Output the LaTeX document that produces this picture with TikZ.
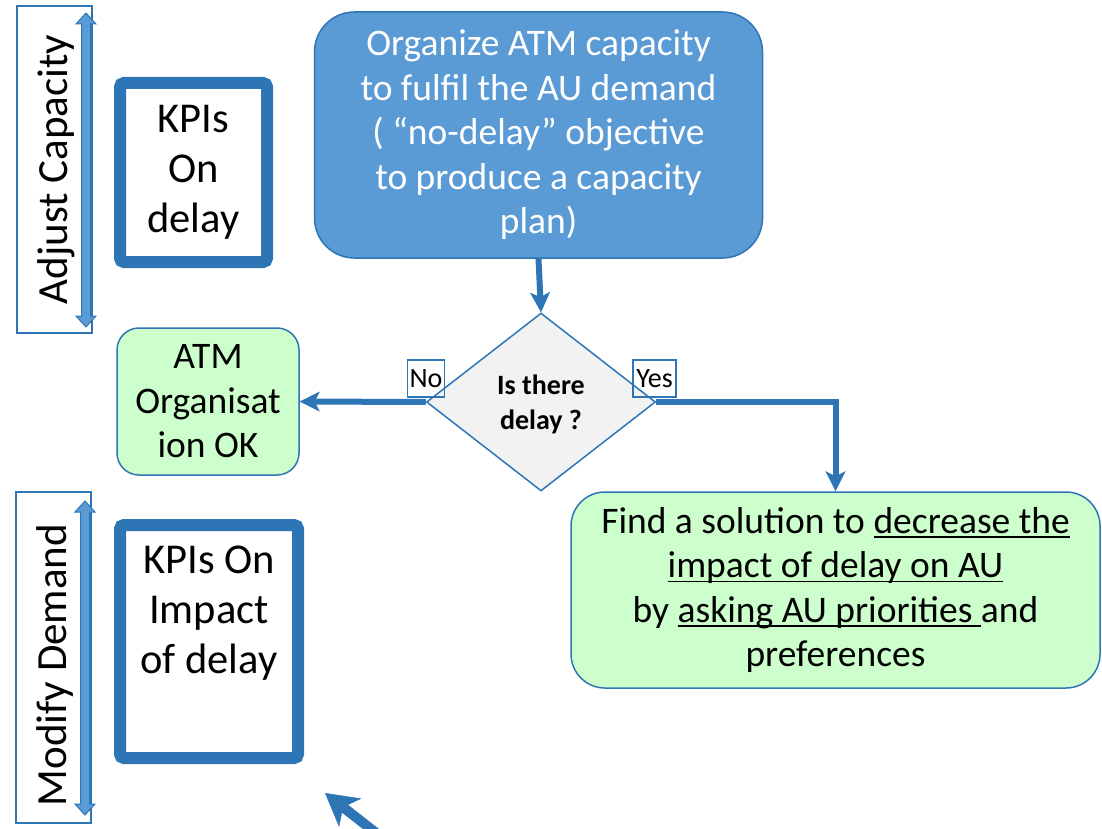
\documentclass[tikz,border=0pt]{standalone}
\usepackage{fontspec}
\setmainfont{Carlito}
\usetikzlibrary{arrows.meta,shapes.geometric}
\definecolor{lineblue}{HTML}{2E75B6}
\definecolor{boxblue}{HTML}{5B9BD5}
\definecolor{okgreen}{HTML}{CCFFCC}
\definecolor{decgray}{HTML}{F2F2F2}
% underline that crosses the descenders, Word style
\newcommand\undl[1]{\setbox0\hbox{#1}\rlap{\rule[-4.5pt]{\wd0}{1.6pt}}\box0}
\tikzset{
  bigtext/.style={font=\fontsize{37.5}{44.5}\selectfont},
  kpitext/.style={font=\fontsize{42.5}{50}\selectfont},
  lbltext/.style={font=\fontsize{28}{34}\selectfont},
  proc/.style={draw=lineblue, line width=1.5pt, align=center, inner sep=0pt, bigtext},
  okbox/.style={proc, fill=okgreen, text=black},
  kpibox/.style={draw=lineblue, line width=12pt, rounded corners=4pt, inner sep=0pt, fill=white},
  sideframe/.style={draw=lineblue, line width=1.4pt, inner sep=0pt},
  sidetext/.style={rotate=90, font=\fontsize{43}{50}\selectfont, inner sep=0pt},
  tag/.style={draw=lineblue, line width=1.2pt, inner sep=0pt, lbltext, text depth=0pt},
  flow/.style={draw=lineblue, line width=6pt,
    -{Stealth[length=20pt, width=20pt, inset=5pt, line width=0.5pt]}},
  bigflow/.style={draw=lineblue, line width=10pt,
    -{Stealth[length=32pt, width=36pt, inset=9pt, line width=0.5pt]}},
  dblarrow/.style={draw=lineblue, fill=boxblue, line width=1pt, line join=miter}
}
\begin{document}
\begin{tikzpicture}[x=1pt, y=-1pt]
\useasboundingbox (0,0) rectangle (1102,829);

% side frames with their labels
\node[sideframe, minimum width=75pt, minimum height=327pt] (adjframe) at (54.5,169.5) {};
\node[sidetext] (adjtext) at (56,169.5) {Adjust Capacity};
\node[sideframe, minimum width=75pt, minimum height=331pt] (modframe) at (53.5,657.5) {};
\node[sidetext] (modtext) at (55,665) {Modify Demand};

% vertical double arrows inside the side frames
\draw[dblarrow] (76,24) -- (86,13) -- (96,24) -- (90.5,24) -- (90.5,316) -- (96,316)
  -- (86,327) -- (76,316) -- (81.5,316) -- (81.5,24) -- cycle;
\draw[dblarrow] (75,512) -- (85,501) -- (95,512) -- (89.5,512) -- (89.5,804) -- (95,804)
  -- (85,815) -- (75,804) -- (80.5,804) -- (80.5,512) -- cycle;

% KPI boxes
\node[kpibox, minimum width=147pt, minimum height=179pt] (kpidelay) at (193.5,172.5) {};
\node[kpitext, align=center] (kpidelaytext) at (193.5,172) {KPIs\\On\\delay};
\node[kpibox, minimum width=178pt, minimum height=233pt] (kpiimpact) at (209,641.5) {};
\node[kpitext, align=center] (kpiimpacttext) at (209,613) {KPIs On\\Impact\\of delay};

% process boxes
\node[proc, fill=boxblue, draw=lineblue, text=white, rounded corners=40pt,
      minimum width=448pt, minimum height=246pt] (plan) at (538.5,135)
  {Organize ATM capacity\\to fulfil the AU demand\\( “no-delay” objective\\to produce a capacity\\plan)};

\node[draw=lineblue, line width=1.5pt, fill=decgray, shape=diamond, inner sep=0pt,
      minimum width=229pt, minimum height=178pt] (delay) at (541,402) {};
\node[font=\bfseries\fontsize{28}{35}\selectfont, align=center] (delaytext) at (541,404.5) {Is there\\delay ?};

\node[okbox, rounded corners=22pt, minimum width=182pt, minimum height=147pt] (atmok) at (208,401.5)
  {ATM\\Organisat\\ion OK};

\node[okbox, rounded corners=34pt, minimum width=529pt, minimum height=196pt] (solution) at (835.5,590)
  {Find a solution to \undl{decrease the}\\\undl{impact of delay on AU}\\by \undl{asking AU priorities }and\\preferences};

% branch labels
\node[tag, minimum width=37pt, minimum height=37pt] (nolbl) at (426,378.5) {No};
\node[tag, minimum width=43pt, minimum height=37pt] (yeslbl) at (654.5,378.5) {Yes};

% connectors
\draw[flow] (plan.south) -- (delay.north);
\draw[flow] (delay.west) -- (atmok.east);
\draw[flow] (delay.east) -| (solution.north);

% arrow coming in from below
\coordinate (feedtail) at (385,840);
\coordinate (feedtip) at (325,793);
\begin{scope}
  \clip (0,0) rectangle (1102,829);
  \draw[bigflow] (feedtail) -- (feedtip);
\end{scope}
\end{tikzpicture}
\end{document}
